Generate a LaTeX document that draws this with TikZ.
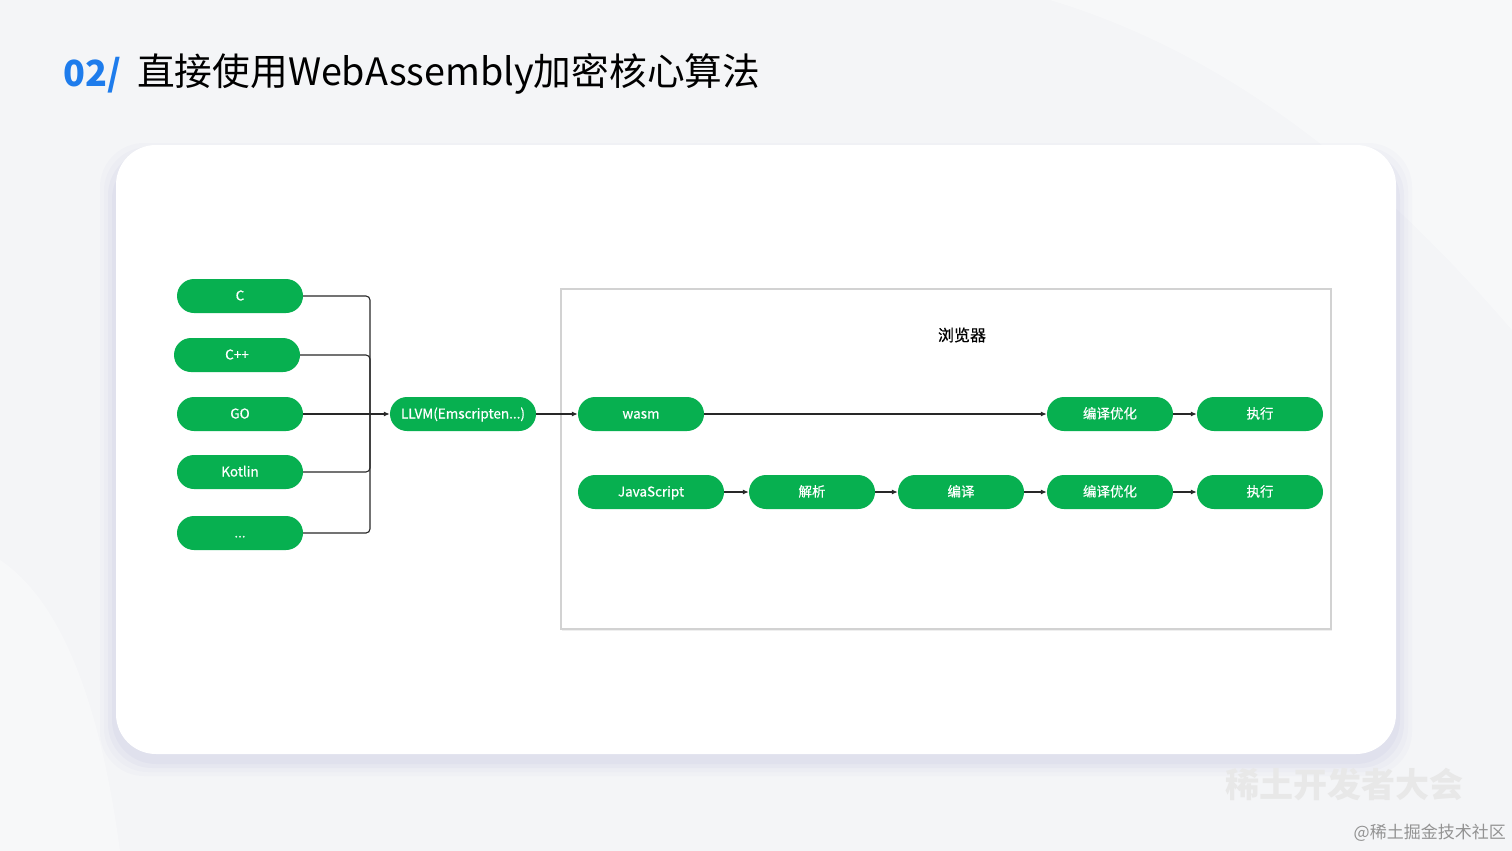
\documentclass[tikz,border=0pt]{standalone}
\usepackage{fontspec}
\setmainfont{Noto Sans CJK SC}
\newfontfamily\pillfont{Noto Sans CJK SC}[FakeBold=0.6]
\usetikzlibrary{arrows.meta,shadows}
\definecolor{pillgreen}{RGB}{7,176,80}
\definecolor{titleblue}{RGB}{30,124,236}
\definecolor{bgc}{RGB}{244,245,247}
\definecolor{linec}{RGB}{40,40,40}
\definecolor{boxline}{RGB}{210,210,210}
\tikzset{
  pill/.style={fill=pillgreen, rounded corners=17pt, minimum width=126pt, minimum height=34pt,
    text=white, font=\pillfont\fontsize{13.5}{14}\selectfont, inner sep=0pt, text height=9.5pt, text depth=0.5pt},
  conn/.style={draw=linec, line width=1.1pt, rounded corners=4pt},
  arr/.style={draw=linec, line width=1.1pt, -{Latex[length=6pt,width=5pt]}},
}
\begin{document}
\begin{tikzpicture}[x=1pt,y=-1pt]
\useasboundingbox (0,0) rectangle (1512,851);
\fill[bgc] (0,0) rectangle (1512,851);
% faint background swirls
\fill[white,opacity=0.35] (1050,0) .. controls (1250,60) and (1400,200) .. (1512,330) -- (1512,0) -- cycle;
\fill[white,opacity=0.3] (0,560) .. controls (60,600) and (100,700) .. (120,851) -- (0,851) -- cycle;
% panel shadow
\foreach \i/\o in {16/0.02,12/0.025,8/0.03,4/0.035}{
  \fill[blue!40!gray,opacity=\o,rounded corners=44pt] (116-\i,145-\i+14) rectangle (1396+\i,754+\i+6);
}
\fill[white,rounded corners=40pt] (116,145) rectangle (1396,754);
% title
\node[anchor=west,inner sep=0pt,text=titleblue,font=\fontsize{36}{38}\selectfont\bfseries] (num) at (63,75) {02/};
\node[anchor=west,inner sep=0pt,font=\fontsize{37.7}{38}\selectfont] (title) at (137,74) {直接使用WebAssembly加密核心算法};
% browser box
\node[draw=boxline, line width=1.2pt, fill=white, minimum width=770pt, minimum height=340pt, inner sep=0pt,
  drop shadow={opacity=0.12, shadow xshift=1pt, shadow yshift=-1.5pt}] (browser) at (946,459) {};
\node[font=\pillfont\fontsize{16}{16}\selectfont] (blabel) at (962,335) {浏览器};
% sources
\node[pill] (c) at (240,296) {C};
\node[pill] (cpp) at (237,355) {C++};
\node[pill] (go) at (240,414) {GO};
\node[pill] (kot) at (240,472) {Kotlin};
\node[pill] (dots) at (240,533) {...};
\node[pill, minimum width=146pt] (llvm) at (463,414) {LLVM(Emscripten...)};
\coordinate (j) at (370,414);
\draw[conn] (c.east) -| (j);
\draw[conn] (cpp.east) -| (j);
\draw[conn] (kot.east) -| (j);
\draw[conn] (dots.east) -| (j);
\draw[arr] (go.east) -- (llvm.west);
% browser rows
\node[pill] (wasm) at (641,414) {wasm};
\node[pill] (opt1) at (1110,414) {编译优化};
\node[pill] (run1) at (1260,414) {执行};
\node[pill, minimum width=146pt] (js) at (651,492) {JavaScript};
\node[pill] (parse) at (812,492) {解析};
\node[pill] (comp) at (961,492) {编译};
\node[pill] (opt2) at (1110,492) {编译优化};
\node[pill] (run2) at (1260,492) {执行};
\draw[arr] (llvm.east) -- (wasm.west);
\draw[arr] (wasm.east) -- (opt1.west);
\draw[arr] (opt1.east) -- (run1.west);
\draw[arr] (js.east) -- (parse.west);
\draw[arr] (parse.east) -- (comp.west);
\draw[arr] (comp.east) -- (opt2.west);
\draw[arr] (opt2.east) -- (run2.west);
% watermarks
\node[text=gray!18,font=\fontsize{34}{34}\selectfont\bfseries,inner sep=0pt] (wm1) at (1344,785) {稀土开发者大会};
\node[text=gray!85,font=\fontsize{17}{17}\selectfont,anchor=east,inner sep=0pt] (wm2) at (1506,833) {@稀土掘金技术社区};
\end{tikzpicture}
\end{document}
